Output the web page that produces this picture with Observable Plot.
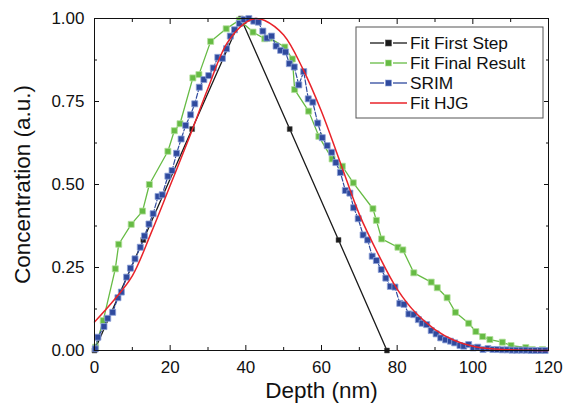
<!DOCTYPE html>
<html><head><meta charset="utf-8">
<script src="https://cdn.jsdelivr.net/npm/d3@7"></script>
<script src="https://cdn.jsdelivr.net/npm/@observablehq/plot@0.6"></script>
<style>body{margin:0;background:#fff}#chart{width:565px;height:410px}</style>
</head><body><div id="chart"></div>
<script>
// ---- data ----
const firstStepX = [0, 12.9, 25.8, 38.7, 51.6, 64.5, 77.3];
const firstStepY = [0, 0.333, 0.667, 1.0, 0.667, 0.333, 0];

const finalX = [0.3, 2.3, 5.5, 6.4, 9.7, 12.7, 14.5, 19.4, 21.1, 22.6, 26.0, 27.6, 30.7, 34.8, 38.3,
  41.9, 45.0, 46.3, 50.3, 52.3, 52.9, 56.6, 59.3, 62.8, 65.5, 68.4, 73.6, 74.5, 75.9, 80.2, 81.5, 84.4,
  89.0, 90.6, 93.2, 95.4, 98.9, 100.8, 102.6, 104.5, 107.8, 110.1, 114.0, 115.7, 118.4];
const finalY = [0.01, 0.09, 0.246, 0.32, 0.38, 0.42, 0.50, 0.60, 0.662, 0.683, 0.821, 0.831, 0.931, 0.969, 0.995,
  0.959, 0.939, 0.941, 0.914, 0.878, 0.786, 0.721, 0.645, 0.577, 0.555, 0.505, 0.427, 0.392, 0.336, 0.311, 0.303, 0.234,
  0.206, 0.189, 0.159, 0.115, 0.082, 0.057, 0.042, 0.033, 0.025, 0.015, 0.009, 0.003, 0.003];

const srimX = [0.2, 0.9, 2.5, 3.5, 4.8, 6.2, 7.1, 8.5, 9.5, 10.7, 12.1, 13.2, 14.4, 15.5, 16.8, 17.9, 19.4, 20.5,
  21.7, 22.9, 24.1, 25.4, 26.5, 27.7, 28.9, 30.2, 31.4, 32.6, 33.8, 34.9, 35.9, 37.0, 38.3, 39.5, 40.8, 42.1,
  43.3, 44.5, 45.6, 46.8, 48.0, 49.2, 50.5, 51.5, 52.8, 54.0, 55.3, 56.5, 57.7, 59.0, 60.2, 61.5, 62.7, 63.8,
  65.0, 66.3, 67.5, 68.5, 69.7, 71.0, 72.2, 73.4, 74.5, 75.8, 77.0, 78.2, 79.4, 80.7, 81.8, 83.1, 84.4, 85.6,
  86.6, 87.8, 89.0, 90.3, 91.5, 92.8, 94.1, 95.2, 96.6, 97.6, 98.9, 100.1, 101.3, 102.7, 104.0, 105.3, 106.5,
  107.8, 109.1, 110.4, 111.6, 112.9, 114.1, 115.4, 116.6, 117.9, 119.1];
const srimY = [0.005, 0.04, 0.072, 0.097, 0.115, 0.159, 0.176, 0.221, 0.248, 0.276, 0.311, 0.345, 0.381, 0.412, 0.464, 0.469, 0.525, 0.542,
  0.594, 0.637, 0.678, 0.71, 0.743, 0.793, 0.816, 0.828, 0.851, 0.883, 0.88, 0.909, 0.947, 0.966, 0.985, 0.997, 1.0, 0.992,
  0.989, 0.962, 0.941, 0.947, 0.917, 0.904, 0.899, 0.864, 0.854, 0.80, 0.84, 0.758, 0.748, 0.685, 0.641, 0.617, 0.597, 0.566,
  0.536, 0.482, 0.474, 0.43, 0.397, 0.348, 0.333, 0.284, 0.271, 0.244, 0.218, 0.193, 0.191, 0.142, 0.139, 0.11, 0.108, 0.093,
  0.082, 0.078, 0.06, 0.05, 0.038, 0.032, 0.028, 0.023, 0.015, 0.013, 0.018, 0.008, 0.01, 0.003, 0.006, 0.003, 0.003,
  0.002, 0.002, 0.001, 0.001, 0.001, 0.001, 0, 0, 0, 0];

const hjgX = [0, 5, 10, 15, 20, 25, 30, 35, 40, 42.5, 45, 50, 55, 60, 65, 70, 75, 80, 85, 90, 95, 100, 105, 110, 115, 120];
const hjgY = [0.086, 0.15, 0.225, 0.355, 0.497, 0.64, 0.79, 0.925, 0.988, 1.0, 0.994, 0.95, 0.85, 0.72, 0.565, 0.41, 0.29, 0.185, 0.112, 0.063, 0.031, 0.013, 0.005, 0.002, 0.0005, 0];

const xTicks = [0, 20, 40, 60, 80, 100, 120];
const xMinor = [10, 30, 50, 70, 90, 110];
const yTicks = [0, 0.25, 0.5, 0.75, 1.0];
const yMinor = [0.125, 0.375, 0.625, 0.875];

const seriesNames = ["Fit First Step", "Fit Final Result", "SRIM", "Fit HJG"];
const xLabel = "Depth (nm)";
const yLabel = "Concentration (a.u.)";

// ---- build tables ----
const zipXY = (X, Y) => X.map((x, i) => ({x, y: Y[i]}));
const first = zipXY(firstStepX, firstStepY);
const final = zipXY(finalX, finalY);
const srim = zipXY(srimX, srimY);
const hjg = zipXY(hjgX, hjgY);

const C = {black: "#1a1a1a", green: "#66bb44", greenEdge: "#b2e09c", blue: "#2f4a9e", blueEdge: "#8ea2d8", red: "#e8232a"};
const font = "'Liberation Sans', Arial, Helvetica, sans-serif";

const plot = Plot.plot({
  width: 565, height: 410,
  marginLeft: 94, marginRight: 17, marginTop: 18, marginBottom: 60,
  style: {fontFamily: font, background: "white", color: "#111"},
  x: {domain: [0, 120]},
  y: {domain: [0, 1]},
  marks: [
    Plot.axisX(xTicks, {anchor: "bottom", tickSize: -5, tickPadding: 15, fontSize: 17, label: null, stroke: "#111"}),
    Plot.axisX(xMinor, {anchor: "bottom", tickSize: -3, tickFormat: () => "", label: null, stroke: "#111"}),
    Plot.axisX(xTicks, {anchor: "top", tickSize: -5, tickFormat: () => "", label: null, stroke: "#111"}),
    Plot.axisX(xMinor, {anchor: "top", tickSize: -3, tickFormat: () => "", label: null, stroke: "#111"}),
    Plot.axisY(yTicks, {anchor: "left", tickSize: -5, tickPadding: 15, fontSize: 17, tickFormat: d3.format(".2f"), label: null, stroke: "#111"}),
    Plot.axisY(yMinor, {anchor: "left", tickSize: -3, tickFormat: () => "", label: null, stroke: "#111"}),
    Plot.axisY(yTicks, {anchor: "right", tickSize: -5, tickFormat: () => "", label: null, stroke: "#111"}),
    Plot.axisY(yMinor, {anchor: "right", tickSize: -3, tickFormat: () => "", label: null, stroke: "#111"}),
    Plot.line(first, {x: "x", y: "y", stroke: C.black, strokeWidth: 1.3}),
    Plot.dot(first, {x: "x", y: "y", symbol: "square", r: 2.8, fill: C.black, stroke: "#555", strokeWidth: 0.5}),
    Plot.line(final, {x: "x", y: "y", stroke: C.green, strokeWidth: 1.3}),
    Plot.dot(final, {x: "x", y: "y", symbol: "square", r: 3.4, fill: C.green, stroke: C.greenEdge, strokeWidth: 0.8}),
    Plot.line(srim, {x: "x", y: "y", stroke: C.blue, strokeWidth: 1.2, strokeDasharray: "5,2"}),
    Plot.dot(srim, {x: "x", y: "y", symbol: "square", r: 3.4, fill: C.blue, stroke: C.blueEdge, strokeWidth: 0.8}),
    Plot.line(hjg, {x: "x", y: "y", stroke: C.red, strokeWidth: 1.5, curve: "catmull-rom"}),
    Plot.frame({stroke: "#111", strokeWidth: 1}),
    Plot.text([xLabel], {frameAnchor: "bottom", dy: 47, fontSize: 22.5, fill: "#111"}),
    Plot.text([yLabel], {frameAnchor: "left", textAnchor: "middle", dx: -72, rotate: -90, fontSize: 22.5, fill: "#111"})
  ]
});
document.getElementById("chart").appendChild(plot);

// ---- legend inside the plot area ----
const svg = d3.select(plot);
const lg = svg.append("g").attr("font-family", font).attr("font-size", 17.3).attr("text-anchor", "start");
lg.append("rect").attr("x", 356).attr("y", 27).attr("width", 187).attr("height", 91)
  .attr("fill", "white").attr("stroke", "#555").attr("stroke-width", 1);
const legendStyles = [
  {stroke: C.black, fill: C.black, edge: "#555", marker: true},
  {stroke: C.green, fill: C.green, edge: C.greenEdge, marker: true},
  {stroke: C.blue, fill: C.blue, edge: C.blueEdge, marker: true},
  {stroke: C.red, fill: null, edge: null, marker: false}
];
seriesNames.forEach((name, i) => {
  const s = legendStyles[i];
  const cy = 43 + i * 20;
  const row = lg.append("g");
  if (s.marker) {
    row.append("line").attr("x1", 370).attr("x2", 384).attr("y1", cy).attr("y2", cy).attr("stroke", s.stroke).attr("stroke-width", 1.3);
    row.append("line").attr("x1", 393).attr("x2", 407).attr("y1", cy).attr("y2", cy).attr("stroke", s.stroke).attr("stroke-width", 1.3);
    row.append("rect").attr("x", 385.5).attr("y", cy - 3).attr("width", 6).attr("height", 6).attr("fill", s.fill).attr("stroke", s.edge).attr("stroke-width", 0.6);
  } else {
    row.append("line").attr("x1", 370).attr("x2", 407).attr("y1", cy).attr("y2", cy).attr("stroke", s.stroke).attr("stroke-width", 1.5);
  }
  row.append("text").attr("x", 410).attr("y", cy).attr("dy", "0.35em").attr("fill", "#111").attr("text-anchor", "start").text(name);
});
</script>
</body></html>
